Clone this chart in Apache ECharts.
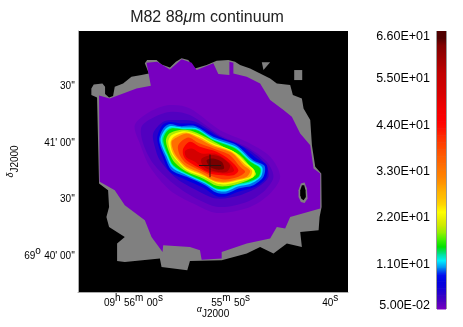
<!DOCTYPE html>
<html>
<head>
<meta charset="utf-8">
<style>
  html, body { margin: 0; background: #fff; }
  #main { width: 463px; height: 327px; }
</style>
<script src="https://cdn.jsdelivr.net/npm/echarts@6/dist/echarts.min.js"></script>
</head>
<body>
<div id="main"></div>
<script>
// map axes are in image units of the map (x to the right, y downwards)
const raTicks = [279, 540, 804]
const raLabels = ['{n|09}{s|h} {n|56}{s|m} {n|00}{s|s}', '{n|55}{s|m} {n|50}{s|s}', '{n|40}{s|s}']
const decTicks = [192, 363, 531, 699]
const decLabels = ['{n|30\'\'}', '{n|41\' 00\'\'}', '{n|30\'\'}', '{n|69}{s|o} {n|40\' 00\'\'}']

// colour bar, bottom to top
const barLevels = [0.05, 1.7, 3.35, 5, 6.6, 8.25, 9.9, 11.55, 13.2, 14.85, 16.5, 18.15, 19.8, 21.45, 23.1, 24.75, 26.4, 28.05, 29.7, 31.35, 33, 34.65, 36.3, 37.95, 39.6, 41.25, 42.9, 44.55, 46.2, 47.85, 49.5, 51.15, 52.8, 54.45, 56.1, 57.75, 59.4, 61.05, 62.7, 64.35, 66]
const barColors = ['#7800c0', '#5000c0', '#3000c8', '#1000d8', '#0000e0', '#0010f0', '#0090f0', '#00f0ff', '#00e090', '#00e000', '#40f000', '#90f000', '#c8ea00', '#e8f000', '#ffff00', '#ffd800', '#ffc000', '#ffb000', '#ff9800', '#ff8400', '#ff7800', '#ff6800', '#ff5c00', '#ff4c00', '#ff3c00', '#ff2800', '#ff1000', '#ff0000', '#f80000', '#f00000', '#e40000', '#d80000', '#d00000', '#c80000', '#c00000', '#b00000', '#a00000', '#900000', '#800000', '#500000']
const barTicks = [0.05, 11, 22, 33, 44, 55, 66]
const barLabels = ['5.00E-02', '1.10E+01', '2.20E+01', '3.30E+01', '4.40E+01', '5.50E+01', '6.60E+01']

// no-data areas
const maskOutline = [[65,205],[72,193],[98,190],[106,200],[106,222],[118,232],[130,228],[135,200],[160,190],[185,170],[215,165],[237,160],[225,130],[232,120],[260,120],[275,133],[300,142],[318,125],[335,115],[355,120],[375,145],[410,135],[440,122],[475,120],[495,125],[510,135],[540,145],[570,160],[600,175],[620,190],[660,195],[668,225],[695,235],[700,265],[720,300],[725,375],[735,440],[753,460],[754,560],[748,590],[745,630],[690,635],[695,680],[650,670],[610,700],[570,680],[530,700],[455,720],[360,722],[352,750],[275,740],[270,715],[165,725],[142,722],[142,670],[165,650],[118,620],[110,590],[118,560],[115,510],[88,490],[82,232],[65,225]]
const maskSquare = [[672,150],[696,150],[696,180],[672,180]]
const maskWedge = [[575,127],[600,127],[580,150]]
const holeRing = [[685,510],[692,490],[703,487],[710,505],[712,535],[703,548],[692,545],[685,530]]
const holeCore = [[690,510],[695,495],[702,495],[706,510],[707,530],[700,540],[693,535],[690,525]]

// lowest level region
const baseEdge = [[88,226],[120,235],[200,205],[243,197],[230,128],[262,125],[300,148],[335,118],[365,128],[380,150],[430,130],[445,162],[478,165],[478,125],[490,128],[490,160],[530,170],[570,190],[600,240],[640,270],[665,290],[690,340],[720,375],[730,445],[750,460],[750,565],[660,590],[645,625],[620,620],[600,655],[530,670],[455,695],[455,715],[395,718],[390,690],[360,680],[280,675],[278,695],[245,650],[225,600],[165,555],[135,510],[90,485]]

// contours, low to high
const contourLevels = [0.05, 0.7, 1.6, 3.6, 6.6, 9.5, 11.5, 13, 15, 19, 23, 28, 34, 40, 46, 52, 58, 63]
const contourPaths = [
  baseEdge,
  [[195,315],[240,275],[300,255],[360,265],[450,330],[530,365],[600,410],[630,470],[600,520],[540,560],[440,578],[370,550],[300,510],[240,440],[210,370]],
  [[215,320],[255,290],[305,275],[360,285],[450,345],[530,380],[590,425],[610,470],[585,510],[530,545],[445,560],[370,530],[310,490],[250,430],[220,370]],
  [[250,340],[280,305],[320,300],[375,305],[460,355],[530,385],[585,430],[595,470],[565,500],[510,525],[440,535],[380,510],[320,475],[270,420],[255,380]],
  [[262,355],[278,315],[300,306],[330,310],[375,312],[440,347],[510,375],[560,415],[590,435],[588,472],[555,500],[505,515],[470,528],[440,528],[400,503],[345,478],[300,455],[278,410]],
  [[268,360],[280,325],[300,312],[330,318],[375,318],[430,350],[500,375],[550,420],[583,437],[580,470],[550,495],[505,505],[470,520],[440,518],[405,495],[350,470],[305,450],[285,410]],
  [[272,360],[284,330],[302,318],[335,322],[378,324],[430,355],[498,380],[545,422],[576,441],[572,470],[543,490],[503,499],[470,513],[440,511],[405,490],[350,465],[308,443],[290,408]],
  [[276,360],[287,333],[304,322],[338,326],[380,328],[430,358],[496,383],[542,424],[572,444],[568,470],[538,487],[501,495],[470,508],[440,507],[405,487],[350,462],[310,438],[293,406]],
  [[280,360],[290,335],[305,325],[340,328],[380,330],[430,360],[495,385],[540,425],[570,445],[565,470],[535,485],[500,492],[470,505],[440,505],[405,485],[350,460],[310,435],[295,405]],
  [[288,362],[298,340],[325,330],[362,331],[405,350],[460,380],[510,405],[547,447],[558,462],[530,482],[480,497],[440,497],[403,477],[350,455],[315,428],[300,402]],
  [[295,365],[305,345],[345,333],[385,345],[430,370],[490,393],[530,430],[553,450],[550,470],[520,480],[470,492],[440,490],[400,470],[350,450],[320,420],[305,400]],
  [[302,366],[313,349],[348,337],[385,350],[430,374],[487,396],[525,432],[546,451],[540,470],[510,479],[468,488],[435,485],[398,465],[350,445],[322,418],[308,398]],
  [[305,365],[320,352],[350,340],[385,355],[430,378],[485,398],[520,435],[540,452],[530,470],[500,478],[465,485],[430,480],[395,460],[350,440],[325,415],[312,395]],
  [[325,375],[355,352],[385,368],[430,385],[480,405],[510,440],[525,455],[505,470],[465,478],[430,470],[390,450],[350,430],[330,405]],
  [[340,385],[360,365],[390,380],[440,395],[480,420],[505,450],[490,465],[455,465],[420,460],[385,442],[350,420],[340,405]],
  [[345,393],[365,385],[395,400],[440,402],[478,428],[492,452],[470,460],[440,458],[405,450],[375,425],[350,412]],
  [[395,415],[420,405],[450,410],[480,435],[470,455],[440,455],[410,445],[395,430]],
  [[410,420],[430,415],[455,425],[462,445],[440,448],[420,440]]
]

const crossH = [[387, 436], [453, 436]]
const crossV = [[420, 403], [420, 471]]

const myChart = echarts.init(document.getElementById('main'))

function polygonSeries(paths, color) {
  return {
    type: 'custom',
    coordinateSystem: 'cartesian2d',
    silent: true,
    data: paths.map((p, i) => [i, 0]),
    renderItem: (params, api) => ({
      type: 'polygon',
      shape: { points: paths[api.value(0)].map((p) => api.coord(p)) },
      style: { fill: color }
    })
  }
}

const tickRich = {
  n: { fontSize: 10, color: '#000', fontFamily: 'Liberation Sans', verticalAlign: 'bottom', lineHeight: 15 },
  s: { fontSize: 10, color: '#000', fontFamily: 'Liberation Sans', verticalAlign: 'top', lineHeight: 15 }
}

const nameRich = {
  g: { fontSize: 9, color: '#000', fontFamily: 'Liberation Sans', fontStyle: 'italic', verticalAlign: 'top', lineHeight: 14 },
  j: { fontSize: 10, color: '#000', fontFamily: 'Liberation Sans', verticalAlign: 'bottom', lineHeight: 14 }
}

// colour bar labels: the end labels sit inside the bar's height
const barLabelFont = { fontSize: 12.5, color: '#000', fontFamily: 'Liberation Sans' }
const barRich = {
  m: { ...barLabelFont, padding: [3, 0, 0, 0] },
  t: { ...barLabelFont, padding: [12, 0, 0, 0] },
  b: { ...barLabelFont, padding: [0, 0, 6, 0] }
}

myChart.setOption({
  animation: false,
  backgroundColor: '#fff',
  title: {
    text: '{a|M82 88}{m|μ}{a|m continuum}',
    left: 202,
    top: 5,
    textAlign: 'center',
    textStyle: {
      fontWeight: 'normal',
      rich: {
        a: { fontSize: 16, fontWeight: 'normal', fontFamily: 'Liberation Sans', color: '#222' },
        m: { fontSize: 16, fontWeight: 'normal', fontFamily: 'Liberation Sans', fontStyle: 'italic', color: '#222' }
      }
    }
  },
  grid: [
    { left: 78, top: 31, width: 270, height: 261, show: true, backgroundColor: '#000', borderWidth: 0, outerBoundsMode: 'none' },
    { left: 436, top: 31, width: 11, height: 278, show: true, backgroundColor: '#999', borderWidth: 0, outerBoundsMode: 'none' }
  ],
  xAxis: [
    {
      type: 'value', min: 25, max: 833, gridIndex: 0,
      name: '{g|α}{j|J2000}', nameLocation: 'middle', nameGap: 13, nameMoveOverlap: false,
      nameTextStyle: { rich: nameRich },
      splitLine: { show: false },
      axisLine: { show: true, onZero: false, lineStyle: { color: '#aaa', width: 1 } },
      axisTick: { show: false },
      axisLabel: {
        customValues: raTicks, align: 'right', margin: 1,
        formatter: (v) => raLabels[raTicks.indexOf(v)],
        rich: tickRich
      }
    },
    { type: 'value', min: 0, max: 11, gridIndex: 1, show: false }
  ],
  yAxis: [
    {
      type: 'value', min: 33, max: 815, inverse: true, gridIndex: 0,
      name: '{g|δ}{j|J2000}', nameLocation: 'middle', nameGap: 58, nameRotate: 90, nameMoveOverlap: false,
      nameTextStyle: { rich: nameRich },
      splitLine: { show: false },
      axisLine: { show: true, onZero: false, lineStyle: { color: '#aaa', width: 1 } },
      axisTick: { show: false },
      axisLabel: {
        customValues: decTicks, margin: 3,
        formatter: (v) => decLabels[decTicks.indexOf(v)],
        rich: tickRich
      }
    },
    {
      type: 'value', min: 0.05, max: 66, gridIndex: 1,
      splitLine: { show: false },
      axisLine: { show: false },
      axisTick: { show: false },
      axisLabel: {
        customValues: barTicks, margin: 6,
        formatter: (v) => {
          const i = barTicks.indexOf(v)
          const style = i === 0 ? 'b' : i === barTicks.length - 1 ? 't' : 'm'
          return '{' + style + '|' + barLabels[i] + '}'
        },
        rich: barRich
      }
    }
  ],
  visualMap: {
    show: false, type: 'continuous', seriesIndex: 1,
    dimension: 1, min: 0.05, max: 64.35,
    inRange: { color: barColors }
  },
  series: [
    polygonSeries([maskOutline, maskSquare, maskWedge], '#808080'),
    {
      type: 'custom',
      coordinateSystem: 'cartesian2d',
      silent: true,
      data: contourPaths.map((p, i) => [i, contourLevels[i]]),
      renderItem: (params, api) => ({
        type: 'polygon',
        shape: { points: contourPaths[api.value(0)].map((p) => api.coord(p)), smooth: api.value(0) ? 0.3 : 0 },
        style: { fill: api.visual('color') }
      })
    },
    polygonSeries([holeRing], '#808080'),
    polygonSeries([holeCore], '#000'),
    {
      type: 'line', data: crossH, showSymbol: false, silent: true,
      lineStyle: { color: '#301010', width: 1 }
    },
    {
      type: 'line', data: crossV, showSymbol: false, silent: true,
      lineStyle: { color: '#301010', width: 1 }
    },
    {
      type: 'custom',
      coordinateSystem: 'cartesian2d',
      xAxisIndex: 1, yAxisIndex: 1,
      silent: true,
      data: barColors.map((c, i) => [i, barLevels[i]]),
      renderItem: (params, api) => {
        const i = api.value(0)
        const a = api.coord([1, barLevels[i + 1]])
        const b = api.coord([10, barLevels[i]])
        return {
          type: 'rect',
          shape: { x: a[0], y: a[1], width: b[0] - a[0], height: b[1] - a[1] + 0.5 },
          style: {
            fill: new echarts.graphic.LinearGradient(0, 1, 0, 0, [
              { offset: 0, color: barColors[i] },
              { offset: 1, color: barColors[i + 1] || barColors[i] }
            ])
          }
        }
      }
    }
  ]
})
</script>
</body>
</html>
